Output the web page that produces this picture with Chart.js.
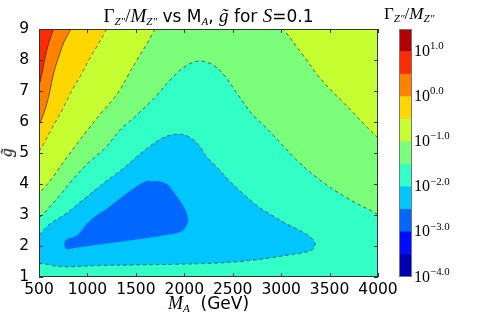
<!DOCTYPE html>
<html lang="en">
<head>
<meta charset="UTF-8">
<title>Width over mass vs M_A and g for S=0.1</title>
<script src="https://cdn.jsdelivr.net/npm/chart.js"></script>
<style>
    body { margin: 0; background: #fff; }
    #wrap { position: relative; width: 491px; height: 327px; overflow: hidden; font-family: "DejaVu Sans", sans-serif; color: #000; }
    canvas { position: absolute; left: 0; top: 0; }
    .lbl { position: absolute; white-space: nowrap; line-height: 1; }
    .m { font-family: "Liberation Serif", serif; font-style: italic; }
    .up { font-family: "Liberation Serif", serif; }
    .sb { position: relative; top: 0.3em; font-size: 0.65em; }
    .sp { position: relative; top: -0.62em; font-size: 0.68em; }
</style>
</head>
<body>
<div id="wrap">
    <canvas id="main" width="491" height="327"></canvas>
    <canvas id="cbar" width="13" height="248" style="left:399px;top:29px"></canvas>

    <div class="lbl" style="left:0;width:417px;top:6px;text-align:center;font-size:17px">
        <span class="up" style="font-size:19px">Γ</span><span class="m sb">Z″</span><span class="up" style="font-size:19px">/</span><span class="m" style="font-size:19px">M</span><span class="m sb">Z″</span> vs M<span class="m sb">A</span>, <span class="m" style="font-size:19px">g̃</span> for <span class="m" style="font-size:19px">S</span>=0.1
    </div>
    <div class="lbl" style="left:0;width:417px;top:294px;text-align:center;font-size:17px">
        <span class="m" style="font-size:18px">M</span><span class="m sb">A</span>&nbsp; (GeV)
    </div>
    <div class="lbl m" style="left:2px;top:144px;font-size:17px;transform:rotate(-90deg)">g̃</div>
    <div class="lbl" style="left:384px;top:5px;font-size:17px">
        <span class="up">Γ</span><span class="m sb">Z″</span><span class="up">/</span><span class="m">M</span><span class="m sb">Z″</span>
    </div>
    <div id="cbarLabels"></div>
</div>

<script>
// contour levels (log10 of Gamma/M) and colour bar
const levelExp = [-4, -3.5, -3, -2.5, -2, -1.5, -1, -0.5, 0, 0.5, 1, 1.5];
const cbarTicks = [-4, -3, -2, -1, 0, 1];
const bandColors = ['#0000b4', '#000bff', '#0068ff', '#00c5ff', '#31ffc6', '#7bff7b',
                    '#c6ff31', '#ffd700', '#ff8100', '#ff2b00', '#b40000'];

// axis ranges
const mRange = [500, 4000];
const gRange = [1, 9];

// contour boundaries, [M_A, g]
const c05 = [[648, 9], [596, 8.5], [562, 8.07], [535, 7.64], [500, 7.15]];
const c0 = [[830, 9], [761, 8.6], [700, 8.07], [648, 7.53], [613, 7.0], [569, 6.46], [527, 6.1], [500, 5.9]];
const cm05 = [[1199, 9], [1110, 8.5], [1027, 8.07], [930, 7.5], [837, 7.0], [750, 6.45], [670, 6.0],
              [600, 5.6], [545, 5.27], [500, 5.05]];
const cm1Left = [[1698, 9], [1610, 8.5], [1525, 8.07], [1410, 7.45], [1308, 6.9], [1160, 6.35], [1016, 5.8],
                 [880, 5.25], [758, 4.73], [650, 4.25], [569, 3.93], [500, 3.7]];
const cm1Right = [[4000, 5.48], [3880, 5.85], [3762, 6.24], [3650, 6.6], [3522, 7.0], [3380, 7.5],
                  [3246, 8.07], [3022, 9]];
const cm15 = [[4000, 3.02], [3650, 3.6], [3350, 4.25], [3150, 4.8], [3000, 5.3], [2850, 5.8], [2700, 6.25],
              [2550, 6.9], [2400, 7.55], [2290, 7.85], [2162, 7.97], [2040, 7.85], [1887, 7.47], [1700, 6.8],
              [1500, 6.2], [1340, 5.75], [1180, 5.15], [1016, 4.7], [850, 4.15], [706, 3.6], [580, 3.15], [500, 2.9]];
const cm2 = [[500, 2.35], [600, 2.68], [786, 3.06], [954, 3.49], [1188, 4.08], [1370, 4.5], [1532, 4.94],
             [1680, 5.3], [1808, 5.53], [1950, 5.61], [2060, 5.5], [2162, 5.21], [2214, 4.94], [2335, 4.55],
             [2489, 4.03], [2620, 3.65], [2764, 3.27], [2900, 3.0], [3040, 2.74], [3246, 2.41], [3330, 2.2],
             [3350, 2.03], [3320, 1.88], [3280, 1.82], [3180, 1.76], [3074, 1.71], [2900, 1.62], [2730, 1.55],
             [2500, 1.48], [2265, 1.44], [1900, 1.41], [1500, 1.39], [1100, 1.37], [900, 1.34], [750, 1.33],
             [650, 1.36], [600, 1.4], [500, 1.44]];
const cm25 = [[760, 2.05], [775, 1.92], [810, 1.9], [900, 1.95], [975, 1.98], [1200, 2.08], [1491, 2.2],
              [1700, 2.3], [1835, 2.36], [1960, 2.45], [2007, 2.57], [2041, 2.84], [2020, 3.1], [1973, 3.38],
              [1900, 3.7], [1835, 3.97], [1780, 4.06], [1732, 4.09], [1650, 4.1], [1594, 4.08], [1450, 3.8],
              [1319, 3.49], [1200, 3.2], [1078, 2.95], [990, 2.7], [906, 2.38], [850, 2.28], [803, 2.24], [770, 2.17]];

// helpers: duplicate a point to get a sharp corner in the spline
const xy = (a) => a.map(([x, y]) => ({x, y}));
const corner = (p) => [p, p];
const edge = (c) => [c[0], ...c, c[c.length - 1]];
const BL = [mRange[0], gRange[0]], BR = [mRange[1], gRange[0]];
const TR = [mRange[1], gRange[1]], TL = [mRange[0], gRange[1]];

// nested regions where the width is below each level
const regions = [
    {pts: [...corner(BL), ...corner(BR), ...corner(TR), ...corner(TL)], color: bandColors[9]},
    {pts: [...corner(BL), ...corner(BR), ...corner(TR), ...edge(c05)], color: bandColors[8]},
    {pts: [...corner(BL), ...corner(BR), ...corner(TR), ...edge(c0)], color: bandColors[7]},
    {pts: [...corner(BL), ...corner(BR), ...corner(TR), ...edge(cm05)], color: bandColors[6]},
    {pts: [...corner(BL), ...corner(BR), ...edge(cm1Right), ...edge(cm1Left)], color: bandColors[5]},
    {pts: [...corner(BL), ...corner(BR), ...edge(cm15)], color: bandColors[4]},
    {pts: edge(cm2), color: bandColors[3]},
    {pts: [...cm25, cm25[0]], color: bandColors[2]}
];
const lines = [
    {c: c05, dash: []}, {c: c0, dash: []}, {c: cm05, dash: [3.5, 3]},
    {c: cm1Left, dash: [3.5, 3]}, {c: cm1Right, dash: [3.5, 3]},
    {c: cm15, dash: [3.5, 3]}, {c: cm2, dash: [3.5, 3]}
];

const TENSION = 0.35;
const datasets = [];
regions.forEach((r, i) => {
    datasets.push({
        data: xy(r.pts),
        showLine: true,
        fill: 'shape',
        backgroundColor: r.color,
        borderColor: 'transparent',
        borderWidth: 0,
        pointRadius: 0,
        tension: TENSION,
        order: 100 - i
    });
});
lines.forEach((l) => {
    datasets.push({
        data: xy(l.c),
        showLine: true,
        fill: false,
        borderColor: 'rgba(0,0,0,0.6)',
        borderWidth: 0.9,
        borderDash: l.dash,
        pointRadius: 0,
        tension: TENSION,
        order: 0
    });
});

// frame with inward ticks like the original axes
const frame = {
    id: 'frame',
    afterDatasetsDraw(chart, args, opts) {
        const {ctx, chartArea: a} = chart;
        ctx.save();
        ctx.strokeStyle = opts.color || '#333';
        ctx.lineWidth = 1;
        if (opts.ticks) {
            ctx.beginPath();
            chart.scales.x.ticks.forEach(t => {
                const px = Math.round(chart.scales.x.getPixelForValue(t.value)) + 0.5;
                ctx.moveTo(px, a.bottom); ctx.lineTo(px, a.bottom - 4);
                ctx.moveTo(px, a.top); ctx.lineTo(px, a.top + 4);
            });
            chart.scales.y.ticks.forEach(t => {
                const py = Math.round(chart.scales.y.getPixelForValue(t.value)) + 0.5;
                ctx.moveTo(a.left, py); ctx.lineTo(a.left + 4, py);
                ctx.moveTo(a.right, py); ctx.lineTo(a.right - 4, py);
            });
            ctx.stroke();
        }
        ctx.strokeRect(Math.round(a.left) + 0.5, Math.round(a.top) + 0.5,
                       Math.round(a.right - a.left) - 1, Math.round(a.bottom - a.top) - 1);
        ctx.restore();
    }
};

const tickFont = {family: 'DejaVu Sans', size: 15.5};

new Chart(document.getElementById('main'), {
    type: 'scatter',
    data: {datasets: datasets},
    options: {
        responsive: false,
        animation: false,
        layout: {padding: {top: 29, right: 113, bottom: 0, left: 0}},
        plugins: {legend: {display: false}, tooltip: {enabled: false}, frame: {ticks: true, color: '#333'}},
        scales: {
            x: {
                min: mRange[0], max: mRange[1],
                grid: {display: false}, border: {display: false},
                ticks: {stepSize: 500, font: tickFont, color: '#000', padding: -4, maxRotation: 0, autoSkip: false,
                        callback: (v) => String(v)},
                afterFit(s) { s.height = 50; }
            },
            y: {
                min: gRange[0], max: gRange[1],
                grid: {display: false}, border: {display: false},
                ticks: {stepSize: 1, font: tickFont, color: '#000', padding: 2, callback: (v) => String(v)},
                afterFit(s) { s.width = 39; }
            }
        }
    },
    plugins: [frame]
});

// colour bar
const cbar = new Chart(document.getElementById('cbar'), {
    type: 'bar',
    data: {
        labels: [''],
        datasets: bandColors.map((c, i) => ({
            data: [[levelExp[i], levelExp[i + 1]]],
            backgroundColor: c,
            borderWidth: 0,
            barPercentage: 1,
            categoryPercentage: 1
        }))
    },
    options: {
        responsive: false,
        animation: false,
        layout: {padding: 0},
        plugins: {legend: {display: false}, tooltip: {enabled: false}, frame: {ticks: false, color: '#777'}},
        scales: {
            x: {display: false, stacked: true},
            y: {display: false, min: levelExp[0], max: levelExp[levelExp.length - 1]}
        }
    },
    plugins: [frame]
});

const holder = document.getElementById('cbarLabels');
cbarTicks.forEach(e => {
    const py = 29 + cbar.scales.y.getPixelForValue(e);
    const d = document.createElement('div');
    d.className = 'lbl up';
    d.style.left = '414px';
    d.style.top = (py - 8.5) + 'px';
    d.style.fontSize = '16px';
    const txt = (e < 0 ? '\u2212' : '') + Math.abs(e).toFixed(1);
    d.innerHTML = '10<span class="sp">' + txt + '</span>';
    holder.appendChild(d);
});
</script>
</body>
</html>
